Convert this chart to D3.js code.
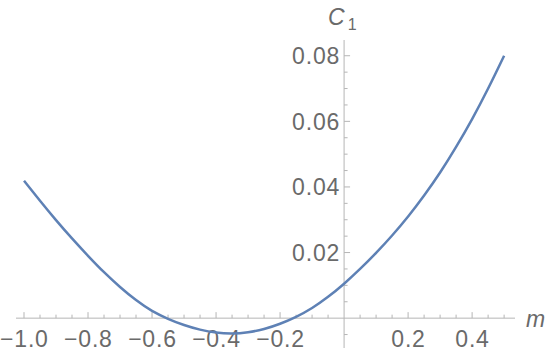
<!DOCTYPE html>
<html>
<head>
<meta charset="utf-8">
<script src="https://cdn.jsdelivr.net/npm/d3@7"></script>
<style>
  html, body { margin: 0; padding: 0; background: #fff; }
  svg { display: block; }
  text { font-family: "Liberation Sans", Arial, sans-serif; fill: #6a6a6a; }
</style>
</head>
<body>
<div id="chart"></div>
<script>
// === data ===
const mValues = [-1.0, -0.95, -0.9, -0.85, -0.8, -0.75, -0.7, -0.65, -0.6, -0.55,
  -0.5, -0.45, -0.4, -0.35, -0.3, -0.25, -0.2, -0.15, -0.1, -0.05,
  0.0, 0.05, 0.1, 0.15, 0.2, 0.25, 0.3, 0.35, 0.4, 0.45, 0.5];
const c1Values = [0.0419, 0.0358, 0.0299, 0.0243, 0.0190, 0.0140, 0.0095, 0.0055, 0.0022, -0.0002,
  -0.0021, -0.0035, -0.0044, -0.0047, -0.0043, -0.0033, -0.0017, 0.0004, 0.0031, 0.0065,
  0.0105, 0.0150, 0.0199, 0.0252, 0.0310, 0.0374, 0.0444, 0.0522, 0.0607, 0.0700, 0.0800];

const xMajorTicks = [-1.0, -0.8, -0.6, -0.4, -0.2, 0.2, 0.4];
const yMajorTicks = [0.02, 0.04, 0.06, 0.08];

const width = 550, height = 357;

// scales (axes cross at the origin)
const x = d3.scaleLinear().domain([-1.025, 0.534]).range([16, 515]);
const y = d3.scaleLinear().domain([-0.0091, 0.0848]).range([348, 40]);

const svg = d3.select("#chart").append("svg")
  .attr("width", width)
  .attr("height", height);

const axisColor = "#b5b5b5";
const fmt = d => d3.format(".1f")(d).replace("-", "\u2212");
const fmtY = d => d3.format(".2f")(d);

// === x axis ===
const xAxisG = svg.append("g");
xAxisG.append("line")
  .attr("x1", x.range()[0]).attr("x2", x.range()[1])
  .attr("y1", y(0)).attr("y2", y(0))
  .attr("stroke", axisColor).attr("stroke-width", 1);

const xMinor = d3.range(-20, 11).map(i => i * 0.05).filter(v => Math.abs(v) > 1e-9);
xAxisG.selectAll("line.tick")
  .data(xMinor)
  .join("line")
  .attr("class", "tick")
  .attr("x1", d => x(d)).attr("x2", d => x(d))
  .attr("y1", y(0))
  .attr("y2", d => y(0) - (xMajorTicks.some(t => Math.abs(t - d) < 1e-9) ? 6 : 3.5))
  .attr("stroke", axisColor).attr("stroke-width", 1);

xAxisG.selectAll("text")
  .data(xMajorTicks)
  .join("text")
  .attr("x", d => x(d) + 0.4)
  .attr("y", y(0) + 28.5)
  .attr("text-anchor", "middle")
  .style("font-size", "23px")
  .style("letter-spacing", "0.8px")
  .text(fmt);

// === y axis ===
const yAxisG = svg.append("g");
yAxisG.append("line")
  .attr("x1", x(0)).attr("x2", x(0))
  .attr("y1", y.range()[0]).attr("y2", y.range()[1])
  .attr("stroke", axisColor).attr("stroke-width", 1);

const yMinor = d3.range(-1, 17).map(i => i * 0.005).filter(v => Math.abs(v) > 1e-9);
yAxisG.selectAll("line.tick")
  .data(yMinor)
  .join("line")
  .attr("class", "tick")
  .attr("y1", d => y(d)).attr("y2", d => y(d))
  .attr("x1", x(0))
  .attr("x2", d => x(0) + (yMajorTicks.some(t => Math.abs(t - d) < 1e-9) ? 6 : 3.5))
  .attr("stroke", axisColor).attr("stroke-width", 1);

yAxisG.selectAll("text")
  .data(yMajorTicks)
  .join("text")
  .attr("x", x(0) - 4)
  .attr("y", d => y(d))
  .attr("dy", "0.36em")
  .attr("text-anchor", "end")
  .style("font-size", "23px")
  .style("letter-spacing", "0.8px")
  .text(fmtY);

// === axis labels ===
svg.append("text")
  .attr("x", 526)
  .attr("y", 327)
  .style("font-size", "23px")
  .style("font-style", "italic")
  .text("m");

const cLabel = svg.append("text")
  .attr("x", 328)
  .attr("y", 25)
  .style("font-size", "23px");
cLabel.append("tspan").style("font-style", "italic").text("C");
cLabel.append("tspan").attr("dx", 3).attr("dy", 5).style("font-size", "16px").text("1");

// === curve ===
const points = mValues.map((m, i) => [m, c1Values[i]]);
svg.append("path")
  .datum(points)
  .attr("fill", "none")
  .attr("stroke", "#5e81b5")
  .attr("stroke-width", 2.5)
  .attr("d", d3.line()
    .x(d => x(d[0]))
    .y(d => y(d[1]))
    .curve(d3.curveNatural));
</script>
</body>
</html>
